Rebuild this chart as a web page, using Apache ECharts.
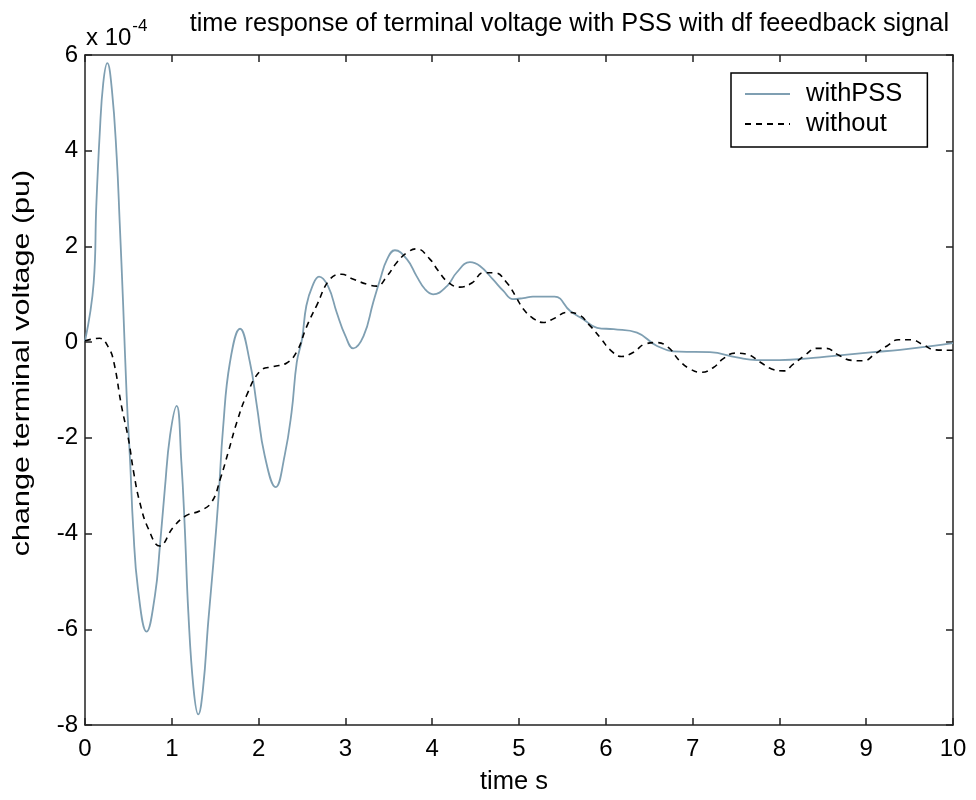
<!DOCTYPE html>
<html>
<head>
<meta charset="utf-8">
<script src="https://cdn.jsdelivr.net/npm/echarts@6/dist/echarts.min.js"></script>
<style>html,body{margin:0;padding:0;background:#fff}#c{width:976px;height:800px}</style>
</head>
<body>
<div id="c"></div>
<script>
// values in units of 1e-4 pu
const pssT = [0, 0.1, 0.13, 0.17, 0.21, 0.257, 0.31, 0.365, 0.40, 0.44, 0.48, 0.52, 0.556, 0.61, 0.71, 0.806, 0.864, 0.92, 0.98, 1.056, 1.11, 1.15, 1.19, 1.25, 1.305, 1.36, 1.42, 1.48, 1.54, 1.59, 1.67, 1.786, 1.9, 1.98, 2.07, 2.197, 2.30, 2.38, 2.44, 2.5, 2.55, 2.62, 2.696, 2.80, 2.9, 3.0, 3.09, 3.21, 3.32, 3.4, 3.48, 3.57, 3.71, 3.82, 3.92, 4.01, 4.17, 4.28, 4.435, 4.55, 4.70, 4.82, 4.93, 5.05, 5.16, 5.41, 5.59, 5.74, 5.9, 6.09, 6.36, 6.59, 6.85, 7.2, 7.51, 7.74, 8.0, 8.39, 8.66, 9.08, 9.39, 9.77, 10];
const pssV = [0.02, 1.24, 2.84, 4.37, 5.41, 5.83, 5.27, 3.88, 2.49, 0.76, -1.12, -2.5, -3.9, -5.15, -6.05, -5.29, -4.24, -3.06, -1.95, -1.33, -2.5, -3.9, -5.63, -7.23, -7.78, -7.23, -5.84, -4.59, -3.2, -1.81, -0.42, 0.28, -0.42, -1.33, -2.37, -3.03, -2.37, -1.46, -0.42, 0.06, 0.76, 1.17, 1.37, 1.17, 0.62, 0.13, -0.13, 0.13, 0.83, 1.31, 1.73, 1.92, 1.73, 1.38, 1.1, 1.0, 1.17, 1.45, 1.67, 1.59, 1.31, 1.07, 0.90, 0.92, 0.95, 0.95, 0.65, 0.48, 0.3, 0.27, 0.2, -0.08, -0.2, -0.21, -0.32, -0.375, -0.375, -0.33, -0.28, -0.21, -0.16, -0.08, -0.02];
const noT = [0, 0.17, 0.27, 0.33, 0.42, 0.5, 0.56, 0.63, 0.73, 0.86, 1.02, 1.17, 1.32, 1.46, 1.56, 1.65, 1.75, 1.86, 2.02, 2.17, 2.32, 2.44, 2.55, 2.67, 2.82, 2.96, 3.07, 3.25, 3.36, 3.48, 3.59, 3.71, 3.82, 3.97, 4.07, 4.19, 4.32, 4.46, 4.59, 4.72, 4.86, 4.97, 5.05, 5.16, 5.28, 5.41, 5.55, 5.68, 5.82, 5.95, 6.05, 6.18, 6.32, 6.45, 6.59, 6.72, 6.85, 6.97, 7.1, 7.24, 7.35, 7.49, 7.62, 7.78, 7.91, 8.05, 8.16, 8.29, 8.43, 8.54, 8.68, 8.83, 8.97, 9.1, 9.24, 9.37, 9.52, 9.66, 9.79, 10];
const noV = [0.03, 0.08, -0.11, -0.4, -1.33, -2.02, -2.71, -3.34, -3.9, -4.26, -3.86, -3.62, -3.53, -3.34, -2.85, -2.3, -1.67, -1.12, -0.6, -0.51, -0.44, -0.2, 0.31, 0.77, 1.31, 1.42, 1.33, 1.21, 1.17, 1.38, 1.66, 1.87, 1.95, 1.74, 1.49, 1.24, 1.15, 1.24, 1.45, 1.45, 1.24, 0.93, 0.69, 0.5, 0.41, 0.5, 0.62, 0.58, 0.34, 0.06, -0.16, -0.3, -0.21, -0.04, -0.01, -0.11, -0.39, -0.56, -0.63, -0.53, -0.35, -0.23, -0.25, -0.42, -0.56, -0.6, -0.46, -0.28, -0.13, -0.13, -0.27, -0.38, -0.39, -0.25, -0.08, 0.05, 0.05, -0.06, -0.16, -0.17];
const seriesNames = ['withPSS', 'without'];
const titleText = 'time response of terminal voltage with PSS with df feeedback signal';
const xName = 'time s';
const yName = 'change terminal voltage (pu)';

const FONT = 'Liberation Sans, Arial, sans-serif';
const zip = (a, b) => a.map((t, i) => [t, b[i]]);
const chart = echarts.init(document.getElementById('c'), null, {renderer: 'canvas'});
const tickStyle = {show: true, inside: true, length: 7, lineStyle: {color: '#222', width: 1.5}};
const lineAx = {show: true, onZero: false, lineStyle: {color: '#222', width: 1.5}};
chart.setOption({
  backgroundColor: '#fff',
  animation: false,
  title: {
    text: titleText, right: 27, top: 12, padding: 0,
    textStyle: {fontFamily: FONT, fontSize: 25.3, fontWeight: 'normal', color: '#000'}
  },
  grid: {left: 85, right: 23, top: 55, bottom: 73},
  legend: {
    orient: 'vertical', left: 731, top: 73,
    padding: [8, 25, 10, 13], itemGap: 4, itemWidth: 45, itemHeight: 14,
    borderColor: '#000', borderWidth: 1.5, backgroundColor: '#fff',
    itemStyle: {opacity: 0},
    textStyle: {fontFamily: FONT, fontSize: 25.5, color: '#000', lineHeight: 26, padding: [0, 0, 0, 11]},
    data: seriesNames
  },
  xAxis: [
    {type: 'value', min: 0, max: 10, interval: 1, position: 'bottom',
     name: xName, nameLocation: 'middle', nameGap: 44,
     nameTextStyle: {fontFamily: FONT, fontSize: 25.5, color: '#000', padding: [0, 10, 0, 0]},
     axisLine: lineAx, axisTick: tickStyle, splitLine: {show: false},
     axisLabel: {fontFamily: FONT, fontSize: 24, color: '#000', margin: 12}},
    {type: 'value', min: 0, max: 10, interval: 1, position: 'top',
     axisLine: lineAx, axisTick: tickStyle, splitLine: {show: false}, axisLabel: {show: false}}
  ],
  yAxis: [
    {type: 'value', min: -8, max: 6, interval: 2, position: 'left',
     axisLine: lineAx, axisTick: tickStyle, splitLine: {show: false},
     axisLabel: {fontFamily: FONT, fontSize: 24, color: '#000', margin: 7}},
    {type: 'value', min: -8, max: 6, interval: 2, position: 'right',
     axisLine: lineAx, axisTick: tickStyle, splitLine: {show: false}, axisLabel: {show: false}}
  ],
  graphic: [{
    type: 'text', left: 86, top: 18,
    style: {
      text: '{a|x 10}{b|-4}', fontFamily: FONT,
      rich: {
        a: {fontSize: 24, fontFamily: FONT, fill: '#000', padding: [12, 0, 0, 0]},
        b: {fontSize: 17, fontFamily: FONT, fill: '#000', padding: [0, 0, 12, 1]}
      }
    }
  }, {
    type: 'text', x: 22, y: 363, rotation: Math.PI / 2, scaleX: 1.27,
    style: {
      text: yName, fontFamily: FONT, fontSize: 24, fill: '#000',
      align: 'center', verticalAlign: 'middle'
    }
  }],
  series: [
    {name: seriesNames[0], type: 'line', data: zip(pssT, pssV), showSymbol: false, symbol: 'none',
     smooth: 0.45,
     lineStyle: {color: '#7f9fb2', width: 1.8}, itemStyle: {color: '#7f9fb2'}},
    {name: seriesNames[1], type: 'line', data: zip(noT, noV), showSymbol: false, symbol: 'none',
     smooth: 0.45,
     lineStyle: {color: '#000', width: 1.6, type: [6, 5]}, itemStyle: {color: '#000'}}
  ]
});
</script>
</body>
</html>
